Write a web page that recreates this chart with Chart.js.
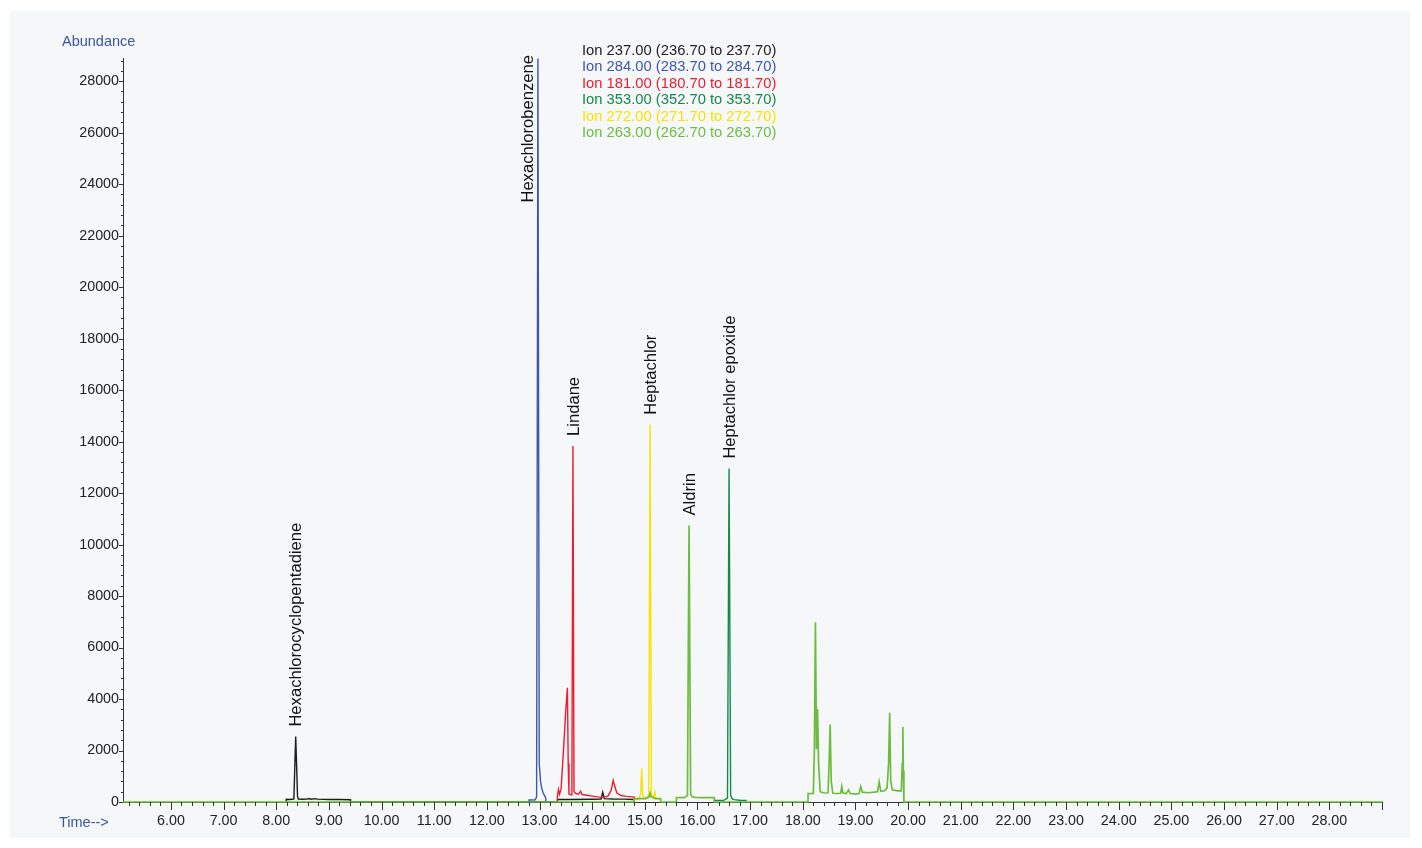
<!DOCTYPE html>
<html>
<head>
<meta charset="utf-8">
<script src="https://cdn.jsdelivr.net/npm/chart.js@4.4.1/dist/chart.umd.min.js"></script>
<style>
    html, body { margin: 0; padding: 0; background: #ffffff; }
    #panel { position: absolute; left: 10px; top: 11px; width: 1400px; height: 827px; background: #f6f7f9; }
    #grafico { position: absolute; left: 0; top: 0; }
</style>
</head>
<body>
<div id="panel"></div>
<canvas id="grafico" width="1422" height="848"></canvas>
<script>
// Ion masses (legend order) and trace colours
const ionMasas = [237, 284, 181, 353, 272, 263];
const ionColores = ['#1c1c1c', '#3b57b3', '#ee1c2e', '#128a4c', '#f5e400', '#6cbd3f'];

// Ion 237 (black)
const tiempo237 = [8.19, 8.19, 8.25, 8.31, 8.335, 8.37, 8.405, 8.42, 8.50, 8.58, 8.62, 8.66, 8.74, 8.78, 9.00, 9.20, 9.41, 9.41,
    13.34, 13.34, 13.60, 14.00, 14.17, 14.20, 14.23, 14.40, 14.60, 14.80, 14.80];
const abund237 = [0, 105, 100, 105, 120, 2540, 200, 115, 105, 110, 135, 110, 130, 110, 100, 95, 90, 0,
    0, 95, 100, 105, 110, 380, 130, 115, 110, 100, 0];

// Ion 284 (blue)
const tiempo284 = [12.80, 12.80, 12.92, 12.945, 12.97, 12.995, 13.02, 13.04, 13.07, 13.10, 13.12, 13.12];
const abund284 = [0, 80, 85, 200, 28880, 1500, 800, 550, 350, 230, 150, 0];

// Ion 181 (red)
const tiempo181 = [13.34, 13.34, 13.36, 13.38, 13.41, 13.46, 13.50, 13.53, 13.545, 13.56, 13.60, 13.615, 13.635, 13.655,
    13.69, 13.74, 13.78, 13.81, 13.90, 14.00, 14.10, 14.20, 14.30, 14.36, 14.40, 14.43, 14.47, 14.55, 14.65, 14.80, 14.80];
const abund181 = [0, 230, 480, 300, 500, 2170, 3600, 4440, 1500, 300, 280, 300, 13830, 400,
    330, 300, 420, 290, 260, 230, 200, 180, 230, 450, 840, 600, 350, 250, 220, 190, 0];

// Ion 353 (dark green)
const tiempo353 = [16.32, 16.32, 16.50, 16.57, 16.60, 16.63, 16.66, 16.70, 16.80, 16.92, 16.92];
const abund353 = [0, 65, 65, 150, 12950, 250, 120, 90, 70, 65, 0];

// Ion 272 (yellow)
const tiempo272 = [14.80, 14.80, 14.88, 14.92, 14.94, 14.96, 15.00, 15.06, 15.075, 15.10, 15.125, 15.14, 15.17, 15.19, 15.21, 15.30, 15.30];
const abund272 = [0, 100, 100, 300, 1300, 250, 110, 150, 300, 14650, 300, 250, 200, 390, 150, 100, 0];

// Ion 263 (light green)
const tiempo263 = [5.09, 14.80, 14.80, 15.00, 15.08, 15.10, 15.12, 15.20, 15.30, 15.30,
    15.60, 15.60, 15.75, 15.81, 15.84, 15.87, 15.90, 15.95, 16.10, 16.32, 16.32,
    18.10, 18.10, 18.20, 18.22, 18.24, 18.26, 18.28, 18.30, 18.33, 18.40, 18.48, 18.50, 18.52, 18.54, 18.57, 18.65,
    18.72, 18.74, 18.76, 18.82, 18.87, 18.90, 19.00, 19.07, 19.10, 19.13, 19.25, 19.35, 19.42, 19.45, 19.48, 19.55,
    19.60, 19.63, 19.65, 19.67, 19.70, 19.80, 19.87, 19.89, 19.90, 19.91, 19.92, 29.02];
const abund263 = [0, 0, 130, 130, 200, 350, 200, 130, 130, 0,
    0, 170, 170, 250, 10740, 300, 200, 180, 170, 170, 0,
    0, 325, 330, 2000, 6980, 2050, 3600, 1500, 400, 350, 360, 1500, 3010, 800, 340, 330,
    340, 600, 360, 320, 465, 330, 310, 330, 600, 380, 360, 380, 400, 780, 420, 430,
    540, 1500, 3470, 800, 470, 430, 430, 1500, 2910, 1200, 0, 0];

// Peak annotations
const compuestos = ['Hexachlorocyclopentadiene', 'Hexachlorobenzene', 'Lindane', 'Heptachlor', 'Aldrin', 'Heptachlor epoxide'];
const compuestoTiempos = [8.37, 12.97, 13.635, 15.10, 15.84, 16.60];
const compuestoAlturas = [2540, 28880, 13830, 14650, 10740, 12950];

// Axis tick labels
const xTickLabels = ['6.00', '7.00', '8.00', '9.00', '10.00', '11.00', '12.00', '13.00', '14.00', '15.00', '16.00', '17.00',
    '18.00', '19.00', '20.00', '21.00', '22.00', '23.00', '24.00', '25.00', '26.00', '27.00', '28.00'];
const yTickLabels = [0, 2000, 4000, 6000, 8000, 10000, 12000, 14000, 16000, 18000, 20000, 22000, 24000, 26000, 28000];

const xMin = 5.09, xMax = 29.0, yMax = 28900;
const fuente = '"Liberation Sans", Arial, Helvetica, sans-serif';
const azulTitulo = '#3a55a8';

function armarSerie(tiempos, valores) {
    return tiempos.map((t, i) => ({ x: t, y: valores[i] }));
}

const series = [
    armarSerie(tiempo237, abund237),
    armarSerie(tiempo284, abund284),
    armarSerie(tiempo181, abund181),
    armarSerie(tiempo353, abund353),
    armarSerie(tiempo272, abund272),
    armarSerie(tiempo263, abund263)
];

function etiquetaIon(m) {
    return 'Ion ' + m.toFixed(2) + ' (' + (m - 0.3).toFixed(2) + ' to ' + (m + 0.7).toFixed(2) + ')';
}

// minor / major tick marks on both axes
const marcasEjes = {
    id: 'marcasEjes',
    afterDraw(chart) {
        const ctx = chart.ctx;
        const sx = chart.scales.x, sy = chart.scales.y;
        const area = chart.chartArea;
        ctx.save();
        ctx.strokeStyle = '#333';
        ctx.lineWidth = 1;
        ctx.beginPath();
        for (let k = Math.ceil(xMin * 5); k <= Math.floor(xMax * 5 + 1e-6); k++) {
            const px = Math.round(sx.getPixelForValue(k / 5)) + 0.5;
            const largo = (k % 5 === 0) ? 8 : 4;
            ctx.moveTo(px, area.bottom);
            ctx.lineTo(px, area.bottom + largo);
        }
        for (let k = 0; k * 400 <= yMax; k++) {
            const py = Math.round(sy.getPixelForValue(k * 400)) + 0.5;
            if (k % 5 === 0) {
                ctx.moveTo(area.left - 4, py);
                ctx.lineTo(area.left, py);
            } else {
                ctx.moveTo(area.left - 2, py);
                ctx.lineTo(area.left + 1, py);
            }
        }
        ctx.stroke();
        ctx.restore();
    }
};

// axis titles, ion list and compound names
const textos = {
    id: 'textos',
    afterDraw(chart) {
        const ctx = chart.ctx;
        const sx = chart.scales.x, sy = chart.scales.y;
        const area = chart.chartArea;
        ctx.save();
        ctx.font = '14.5px ' + fuente;
        ctx.fillStyle = azulTitulo;
        ctx.textAlign = 'left';
        ctx.textBaseline = 'middle';
        ctx.fillText('Abundance', area.left - 61, area.top - 16);
        ctx.fillText('Time-->', area.left - 64, area.bottom + 21);

        ctx.font = '14.75px ' + fuente;
        ionMasas.forEach((m, i) => {
            ctx.fillStyle = i === 0 ? '#222' : ionColores[i];
            ctx.fillText(etiquetaIon(m), 582, 51 + i * 16.4);
        });

        ctx.font = '16.6px ' + fuente;
        ctx.fillStyle = '#111';
        compuestos.forEach((nombre, i) => {
            let px = sx.getPixelForValue(compuestoTiempos[i]) + 1;
            let py = sy.getPixelForValue(compuestoAlturas[i]) - 10;
            const ancho = ctx.measureText(nombre).width;
            if (py - ancho < area.top) {
                py = area.top - 3 + ancho;
                px -= 11;
            }
            ctx.save();
            ctx.translate(px, py);
            ctx.rotate(-Math.PI / 2);
            ctx.textAlign = 'left';
            ctx.textBaseline = 'middle';
            ctx.fillText(nombre, 0, 0);
            ctx.restore();
        });
        ctx.restore();
    }
};

new Chart(document.getElementById('grafico'), {
    type: 'line',
    data: {
        datasets: series.map((datos, i) => ({
            label: etiquetaIon(ionMasas[i]),
            data: datos,
            borderColor: ionColores[i],
            borderWidth: i === series.length - 1 ? 1.7 : 1.4,
            pointRadius: 0,
            tension: 0,
            fill: false,
            clip: false,
            order: series.length - i
        }))
    },
    options: {
        responsive: false,
        animation: false,
        events: [],
        layout: { padding: { top: 58, right: 40, left: 0, bottom: 0 } },
        plugins: {
            legend: { display: false },
            tooltip: { enabled: false }
        },
        scales: {
            x: {
                type: 'linear',
                min: xMin,
                max: xMax,
                grid: { display: false, drawTicks: false },
                border: { display: true, color: '#333', width: 1 },
                afterBuildTicks: s => { s.ticks = xTickLabels.map(v => ({ value: parseFloat(v) })); },
                afterFit: s => { s.height = 46; },
                ticks: {
                    autoSkip: false,
                    maxRotation: 0,
                    padding: 10,
                    color: '#222',
                    font: { family: fuente, size: 14.3 },
                    callback: v => v.toFixed(2)
                }
            },
            y: {
                type: 'linear',
                min: 0,
                max: yMax,
                grid: { display: false, drawTicks: false },
                border: { display: true, color: '#333', width: 1 },
                afterBuildTicks: s => { s.ticks = yTickLabels.map(v => ({ value: v })); },
                afterFit: s => { s.width = 123; },
                ticks: {
                    autoSkip: false,
                    padding: 4,
                    color: '#222',
                    font: { family: fuente, size: 14.3 },
                    callback: v => String(v)
                }
            }
        }
    },
    plugins: [marcasEjes, textos]
});
</script>
</body>
</html>
